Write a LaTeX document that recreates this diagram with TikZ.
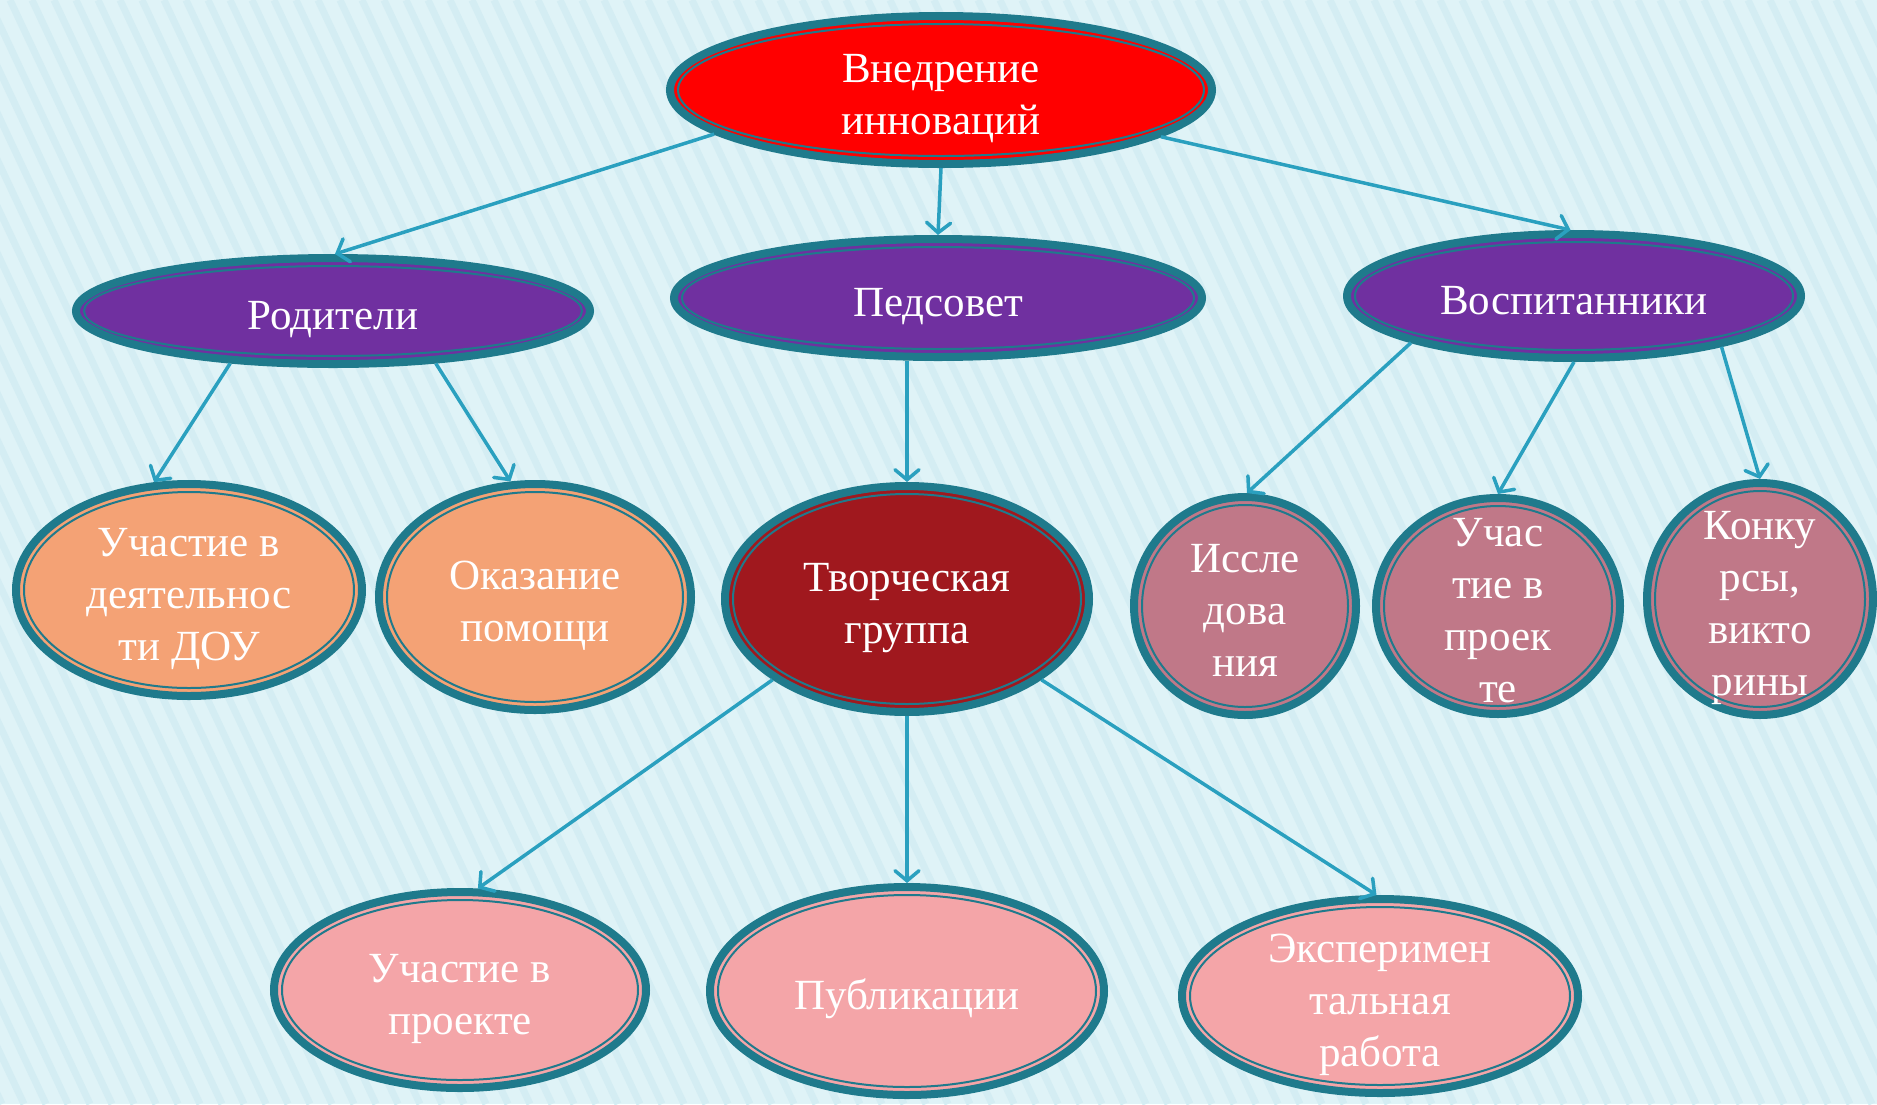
\documentclass[tikz,border=0pt]{standalone}
\usepackage{fontspec}
\setmainfont{Liberation Serif}
\usetikzlibrary{arrows.meta,shapes.geometric}
\definecolor{bgc}{HTML}{DFF3F7}
\definecolor{stripec}{HTML}{D4EDF3}
\definecolor{ringc}{HTML}{1F7A8C}
\definecolor{arrc}{HTML}{2AA0BF}
\definecolor{redf}{HTML}{FF0000}
\definecolor{purplef}{HTML}{7030A0}
\definecolor{peachf}{HTML}{F4A275}
\definecolor{darkredf}{HTML}{A0181E}
\definecolor{mauvef}{HTML}{C07888}
\definecolor{pinkf}{HTML}{F4A5A8}
\tikzset{
  bub/.style={ellipse, draw=ringc, line width=8pt, inner sep=0pt, text=white},
  inring/.style={draw=ringc, line width=2pt},
  conn/.style={draw=arrc, line width=3.5pt, -{Straight Barb[length=10pt,width=24pt,line cap=round]}},
  stripe/.style={draw=stripec, line width=7pt}
}
\newcommand{\bt}[1]{\makebox[0pt]{\smash{\raisebox{-14pt}{\fontsize{43}{52}\selectfont\begin{tabular}{@{}c@{}}#1\end{tabular}}}}}
\newcommand{\bubble}[7]{%
  \node[bub, fill=#6, minimum width={2*#4pt-8pt}, minimum height={2*#5pt-8pt}] (#1) at (#2,#3) {\bt{#7}};
  \draw[inring] (#1.center) ellipse [x radius={#4pt-12pt}, y radius={#5pt-12pt}];
}
\begin{document}
\begin{tikzpicture}[x=1pt,y=-1pt]
\fill[bgc] (0,0) rectangle (1877,1104);
\useasboundingbox (0,0) rectangle (1877,1104);
\begin{scope}
\clip (0,0) rectangle (1877,1104);
\foreach \i in {-540,-518,...,1900} { \draw[stripe] (\i,0) -- (\i+520,1104); }
\end{scope}
\bubble{top}{941}{90}{275}{78}{redf}{Внедрение\\инноваций}
\bubble{rod}{333}{311}{261}{57}{purplef}{Родители}
\bubble{ped}{938}{298}{268}{63}{purplef}{Педсовет}
\bubble{vos}{1574}{296}{231}{66}{purplef}{Воспитанники}
\bubble{dou}{189}{590}{177}{110}{peachf}{Участие в\\деятельнос\\ти ДОУ}
\bubble{pom}{535}{597}{160}{117}{peachf}{Оказание\\помощи}
\bubble{tv}{907}{599}{186}{117}{darkredf}{Творческая\\группа}
\bubble{iss}{1245}{606}{115}{113}{mauvef}{Иссле\\дова\\ния}
\bubble{uch}{1498}{606}{126}{112}{mauvef}{Учас\\тие в\\проек\\те}
\bubble{kon}{1760}{599}{117}{120}{mauvef}{Конку\\рсы,\\викто\\рины}
\bubble{proj}{460}{990}{190}{102}{pinkf}{Участие в\\проекте}
\bubble{pub}{907}{991}{201}{108}{pinkf}{Публикации}
\bubble{exp}{1380}{996}{202}{101}{pinkf}{Эксперимен\\тальная\\работа}
\draw[conn] (top.191) -- (rod.88);
\draw[conn] (top.south) -- (ped.north);
\draw[conn] (top.348) -- (vos.93);
\draw[conn] (rod.207) -- (dou.108);
\draw[conn] (rod.333) -- (pom.102);
\draw[conn] (tv.north |- ped.south) -- (tv.north);
\draw[conn] (vos.196) -- (iss.89);
\draw[conn] (vos.south) -- (uch.north);
\draw[conn] (vos.341) -- (kon.north);
\draw[conn] (tv.211) -- (proj.80);
\draw[conn] (tv.south) -- (pub.north);
\draw[conn] (tv.329) -- (exp.92);
\end{tikzpicture}
\end{document}
